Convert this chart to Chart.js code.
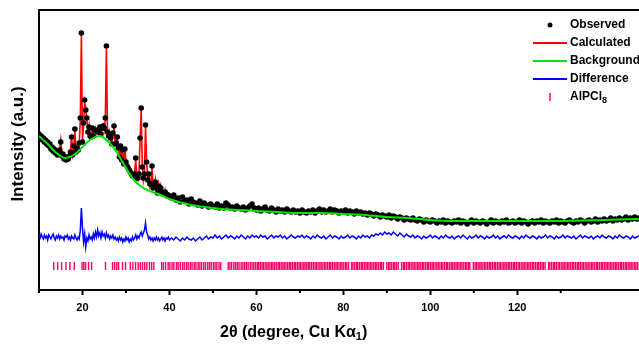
<!DOCTYPE html>
<html>
<head>
<meta charset="utf-8">
<script src="https://cdn.jsdelivr.net/npm/chart.js@4"></script>
<style>
  html, body { margin: 0; padding: 0; background: #fff; overflow: hidden; }
</style>
</head>
<body>
<canvas id="xrdChart" width="639" height="346"></canvas>
<script>
// 2theta axis range
const xMin = 10;
const xMax = 148;

// fine part of the pattern, 10 - 40 deg, 0.25 deg step
const fineStart = 10;
const fineStep = 0.25;

const calcFine = [
  155, 154, 153, 152, 151, 150, 149, 148,
  147, 146, 145, 143, 142, 141, 140, 139,
  138, 137, 136, 142, 150, 137, 134, 133,
  132, 132, 132, 133, 133, 140, 155, 136,
  142, 160, 140, 140, 142, 145, 170, 255,
  150, 165, 188, 182, 170, 160, 165, 152,
  155, 160, 156, 158, 162, 157, 160, 158,
  162, 158, 160, 165, 160, 170, 242, 160,
  152, 158, 150, 148, 155, 162, 148, 145,
  155, 140, 135, 142, 132, 138, 128, 140,
  130, 122, 124, 118, 120, 114, 116, 112,
  118, 130, 114, 110, 118, 150, 180, 125,
  110, 118, 163, 130, 108, 118, 104, 108,
  122, 104, 102, 110, 100, 99, 106, 98,
  104, 96, 98, 95, 100, 94, 96, 93,
  95
];

const obsFine = [
  156, 152, 154, 150, 152, 148, 150, 146,
  148, 144, 146, 141, 143, 139, 141, 137,
  139, 135, 137, 140, 148, 134, 136, 131,
  133, 130, 133, 131, 134, 138, 153, 135,
  144, 161, 138, 142, 140, 147, 172, 257,
  148, 167, 190, 180, 172, 158, 163, 154,
  153, 162, 154, 160, 160, 159, 158, 160,
  163, 156, 162, 164, 162, 172, 244, 158,
  154, 156, 152, 146, 157, 164, 146, 147,
  153, 142, 133, 144, 130, 140, 126, 141,
  128, 124, 122, 120, 118, 116, 114, 114,
  116, 132, 112, 112, 116, 152, 182, 123,
  112, 116, 165, 128, 110, 116, 106, 106,
  124, 102, 104, 108, 102, 97, 104, 100,
  102, 98, 96, 97, 98, 96, 94, 95,
  93
];

const diffFine = [
  55, 52, 56, 53, 51, 55, 52, 54,
  50, 55, 53, 51, 54, 56, 52, 50,
  54, 52, 55, 51, 54, 52, 53, 50,
  54, 53, 55, 51, 53, 50, 54, 52,
  51, 55, 52, 50, 53, 51, 60, 82,
  62, 48, 56, 43, 52, 49, 55, 51,
  53, 50, 56, 52, 58, 53, 60, 54,
  57, 52, 58, 54, 56, 52, 57, 53,
  55, 51, 54, 52, 55, 51, 53, 50,
  52, 49, 53, 50, 52, 48, 51, 49,
  53, 50, 52, 48, 51, 49, 53, 50,
  52, 55, 51, 54, 52, 56, 58, 54,
  57, 60, 67, 58, 55, 51, 53, 50,
  52, 49, 52, 50, 53, 50, 52, 49,
  51, 53, 50, 52, 49, 52, 51, 53,
  50
];

// coarse part, 40.5 - 148 deg, 0.5 deg step
const coarseStart = 40.5;
const coarseStep = 0.5;

const obsCoarse = [
  92, 95, 90, 92, 88, 93, 89, 90, 86, 91, 88, 87, 85, 89, 84, 87, 85, 83, 86, 84,
  83, 86, 82, 84, 82, 87, 85, 82, 83, 81, 84, 82, 81, 83, 80, 82, 84, 86, 82, 80,
  82, 79, 81, 83, 80, 79, 82, 80, 78, 81, 79, 80, 78, 81, 79, 78, 80, 78, 79, 77,
  80, 78, 77, 79, 78, 80, 77, 79, 81, 78, 80, 78, 79, 81, 78, 80, 79, 77, 79, 78,
  80, 77, 79, 78, 76, 79, 77, 78, 76, 77, 75, 77, 76, 74, 76, 75, 73, 75, 74, 73,
  75, 72, 74, 73, 71, 73, 72, 70, 72, 71, 70, 72, 70, 69, 71, 70, 68, 70, 69, 68,
  70, 69, 67, 69, 68, 70, 67, 69, 68, 67, 69, 68, 70, 67, 69, 68, 66, 68, 70, 67,
  69, 68, 67, 69, 68, 66, 68, 70, 67, 69, 68, 67, 69, 68, 70, 67, 68, 69, 67, 68,
  70, 67, 69, 68, 66, 68, 69, 67, 69, 68, 70, 67, 69, 68, 67, 69, 68, 70, 67, 69,
  68, 67, 69, 70, 68, 67, 69, 68, 70, 69, 67, 69, 70, 68, 69, 71, 68, 70, 69, 71,
  69, 70, 72, 69, 71, 70, 72, 70, 71, 73, 70, 72, 71, 73, 71, 72
];

const diffCoarse = [
  52, 50, 53, 51, 49, 52, 50, 53, 51, 50, 52, 49, 51, 53, 50, 52, 54, 51, 53, 52,
  55, 52, 54, 51, 53, 55, 52, 54, 53, 51, 54, 52, 55, 53, 51, 54, 52, 55, 53, 54,
  52, 55, 53, 54, 51, 53, 55, 52, 54, 53, 55, 52, 54, 51, 53, 55, 53, 52, 54, 53,
  55, 52, 54, 53, 51, 54, 52, 55, 53, 52, 54, 51, 53, 55, 52, 54, 53, 51, 54, 52,
  53, 55, 52, 54, 53, 51, 54, 52, 55, 53, 54, 52, 55, 54, 56, 55, 57, 55, 58, 56,
  57, 55, 58, 56, 54, 57, 55, 53, 56, 54, 53, 55, 52, 54, 53, 51, 54, 52, 53, 55,
  52, 54, 53, 51, 54, 52, 55, 53, 52, 54, 51, 53, 54, 52, 55, 53, 51, 54, 52, 53,
  55, 52, 54, 53, 51, 54, 52, 53, 55, 52, 54, 51, 53, 54, 52, 55, 53, 52, 54, 53,
  51, 54, 52, 55, 53, 52, 54, 53, 51, 54, 52, 53, 55, 52, 54, 53, 51, 54, 52, 53,
  55, 52, 54, 53, 52, 54, 51, 53, 55, 52, 54, 53, 52, 54, 51, 53, 54, 52, 55, 53,
  52, 54, 53, 51, 54, 52, 55, 53, 52, 54, 53, 51, 54, 52, 53, 54
];

// calculated curve above 40 deg, 1 deg step
const calcCoarseStart = 41;
const calcCoarseStep = 1;
const calcCoarse = [
  95, 90, 93, 88, 91, 86, 89, 84, 85, 84,
  86, 83, 87, 82, 82, 83, 82, 81, 85, 80,
  80, 82, 79, 80, 79, 79, 80, 78, 78, 78,
  78, 78, 79, 78, 78, 78, 79, 78, 78, 78,
  77, 77, 77, 77, 76, 76, 75, 75, 74, 74,
  73, 73, 72, 72, 71, 71, 70, 70, 70, 69,
  69, 69, 69, 68, 68, 68, 68, 68, 68, 68,
  68, 68, 68, 68, 68, 68, 68, 68, 68, 68,
  68, 68, 68, 68, 68, 68, 68, 68, 68, 68,
  68, 68, 68, 69, 69, 69, 69, 69, 69, 70,
  70, 70, 70, 70, 71, 71, 71, 71
];

// background
const bgAngles = [10, 12, 14, 16, 18, 20, 22, 24, 26, 28, 30, 32, 34, 36, 38, 40, 44, 48, 52, 56, 60, 65, 70, 75, 80, 85, 90, 95, 100, 105, 110, 120, 130, 140, 148];
const bgValues = [154, 146, 137, 132, 135, 143, 151, 154, 148, 137, 122, 109, 102, 98, 95, 91, 86, 83, 81, 80, 79, 78, 77, 77, 76, 75, 73, 72, 70, 69, 69, 69, 69, 70, 71];

// reflection positions of AlPCl8
const braggPeaks = [
  13.4, 14.3, 15.2, 16.2, 17.1, 18.1, 19.9, 20.3, 20.7, 21.4, 22.1,
  25.3, 26.9, 27.4, 27.9, 28.3, 29.2, 29.9, 31.0, 31.6, 32.2, 32.8, 33.3, 33.8, 34.3, 34.8, 35.4, 35.9, 36.4,
  38.2, 38.6, 39.1, 39.7, 40.1, 40.6, 41.0, 41.6, 42.0, 42.5, 43.0, 43.4, 43.9, 44.3, 44.8, 45.2, 45.7, 46.1,
  46.6, 47.0, 47.4, 47.9, 48.3, 48.8, 49.2, 49.6, 50.1, 50.5, 50.9, 51.4, 51.8,
  53.5, 53.9, 54.3, 54.8, 55.2, 55.6, 56.0, 56.5, 56.9, 57.3, 57.7, 58.1, 58.6, 59.0, 59.4, 59.8,
  60.2, 60.5, 60.9, 61.3, 61.6, 62.0, 62.4, 62.7, 63.1, 63.5, 63.8, 64.2, 64.6, 65.0, 65.3, 65.7, 66.1, 66.4,
  66.8, 67.2, 67.6, 67.9, 68.3, 68.7, 69.0, 69.4, 69.8,
  70.1, 70.5, 70.9, 71.2, 71.6, 72.0, 72.3, 72.7, 73.1, 73.5, 73.8, 74.2, 74.6, 74.9, 75.3, 75.7, 76.0, 76.4,
  76.8, 77.1, 77.5, 77.9, 78.3, 78.6, 79.0, 79.4, 79.7,
  80.1, 80.5, 80.8, 81.2, 81.9, 82.2, 82.6, 83.0, 83.3, 83.7, 84.1, 84.4, 84.8, 85.2, 85.5, 85.9, 86.3, 86.6,
  87.0, 87.4, 87.7, 88.1, 88.5, 88.8, 89.2,
  90.0, 90.4, 90.7, 91.1, 91.5, 91.8, 92.2, 92.6, 93.4, 93.8, 94.1, 94.5, 94.9, 95.2, 95.6, 96.0, 96.3, 96.7,
  97.1, 97.4, 97.8, 98.2, 98.5, 98.9, 99.3, 99.6,
  100.0, 100.4, 100.7, 101.1, 101.5, 101.8, 102.2, 102.6, 102.9, 103.3, 103.7, 104.0, 104.4, 104.8, 105.1,
  105.5, 105.9, 106.2, 106.6, 107.0, 107.3, 107.7, 108.1, 108.4, 108.8, 109.1, 109.9,
  110.3, 110.6, 111.0, 111.4, 111.7, 112.1, 112.5, 112.8, 113.2, 113.6, 113.9, 114.3, 114.7, 115.0, 115.4,
  115.8, 116.1, 116.5, 116.9, 117.2, 117.6, 118.0, 118.3, 118.7, 119.1, 119.4, 119.8,
  120.2, 120.5, 120.9, 121.3, 121.6, 122.0, 122.4, 122.7, 123.1, 123.5, 123.8, 124.2, 124.6, 124.9, 125.3,
  125.7, 126.0, 126.4, 127.2, 127.5, 127.9, 128.3, 128.6, 129.0, 129.4, 129.7,
  130.1, 130.5, 130.8, 131.2, 131.6, 131.9, 132.3, 132.7, 133.0, 133.4, 133.8, 134.1, 134.5, 134.9, 135.2,
  135.6, 136.0, 136.3, 136.7, 137.1, 137.4, 137.8, 138.2, 138.5, 138.9, 139.3, 139.6,
  140.0, 140.4, 140.7, 141.1, 141.5, 141.8, 142.2, 142.6, 142.9, 143.3, 143.7, 144.0, 144.4, 144.8, 145.1,
  145.5, 145.9, 146.2, 146.6, 147.0, 147.3, 147.7
];
const braggLevel = 24;

const FONT = "Arial, 'Liberation Sans', sans-serif";

function toPoints(start, step, values) {
  return values.map((v, i) => ({ x: start + i * step, y: v }));
}

const obsPoints = toPoints(fineStart, fineStep, obsFine).concat(toPoints(coarseStart, coarseStep, obsCoarse));
const calcPoints = toPoints(fineStart, fineStep, calcFine).concat(toPoints(calcCoarseStart, calcCoarseStep, calcCoarse));
const diffPoints = toPoints(fineStart, fineStep, diffFine).concat(toPoints(coarseStart, coarseStep, diffCoarse));
const bgPoints = bgAngles.map((a, i) => ({ x: a, y: bgValues[i] }));
const braggPoints = braggPeaks.map(a => ({ x: a, y: braggLevel }));

// frame top line, minor ticks, legend and axis titles
const decorations = {
  id: "decorations",
  afterDraw(chart) {
    const { ctx, chartArea, scales } = chart;
    ctx.save();

    ctx.strokeStyle = "#000";
    ctx.lineWidth = 2;
    ctx.beginPath();
    ctx.moveTo(chartArea.left - 1, chartArea.top);
    ctx.lineTo(chartArea.right, chartArea.top);
    ctx.stroke();

    // minor ticks on x
    scales.x.ticks.forEach(t => {
      if (t.value % 20 !== 0 && t.value % 10 === 0 && t.value <= 130) {
        const px = scales.x.getPixelForValue(t.value);
        ctx.beginPath();
        ctx.moveTo(px, chartArea.bottom);
        ctx.lineTo(px, chartArea.bottom + 3);
        ctx.stroke();
      }
    });

    // legend
    const legX = 550;
    const textX = 570;
    chart.data.datasets.forEach((ds, i) => {
      const y = 25 + i * 18;
      ctx.strokeStyle = ds.borderColor;
      ctx.fillStyle = ds.backgroundColor || ds.borderColor;
      if (ds.legendKind === "dot") {
        ctx.beginPath();
        ctx.arc(legX, y, 2.5, 0, Math.PI * 2);
        ctx.fill();
      } else if (ds.legendKind === "tick") {
        ctx.lineWidth = 1.5;
        ctx.beginPath();
        ctx.moveTo(legX, y - 4);
        ctx.lineTo(legX, y + 4);
        ctx.stroke();
      } else {
        ctx.lineWidth = 2;
        ctx.beginPath();
        ctx.moveTo(533, y);
        ctx.lineTo(567, y);
        ctx.stroke();
      }
      ctx.fillStyle = "#000";
      ctx.textBaseline = "middle";
      ctx.textAlign = "left";
      const m = ds.label.match(/^(.*?)(\d+)$/);
      ctx.font = "bold 12px " + FONT;
      if (m) {
        ctx.fillText(m[1], textX, y);
        const w = ctx.measureText(m[1]).width;
        ctx.font = "bold 9px " + FONT;
        ctx.fillText(m[2], textX + w, y + 4);
      } else {
        ctx.fillText(ds.label, textX, y);
      }
    });

    // x title
    ctx.fillStyle = "#000";
    ctx.textBaseline = "middle";
    ctx.textAlign = "left";
    let tx = 220;
    const ty = 333;
    ctx.font = "bold 16px " + FONT;
    const part1 = "2\u03b8 (degree, Cu K\u03b1";
    ctx.fillText(part1, tx, ty);
    tx += ctx.measureText(part1).width;
    ctx.font = "bold 11px " + FONT;
    ctx.fillText("1", tx, ty + 4);
    tx += ctx.measureText("1").width;
    ctx.font = "bold 16px " + FONT;
    ctx.fillText(")", tx, ty);

    // y title
    ctx.translate(18, 144);
    ctx.rotate(-Math.PI / 2);
    ctx.textAlign = "center";
    ctx.font = "bold 17px " + FONT;
    ctx.fillText("Intensity (a.u.)", 0, 0);

    ctx.restore();
  }
};

const ctx = document.getElementById("xrdChart");

const xrdChart = new Chart(ctx, {
  type: "scatter",
  data: {
    datasets: [
      {
        label: "Observed",
        legendKind: "dot",
        data: obsPoints,
        backgroundColor: "#000",
        borderColor: "#000",
        borderWidth: 0,
        pointRadius: 2.8,
        order: 2
      },
      {
        label: "Calculated",
        data: calcPoints,
        showLine: true,
        borderColor: "#ff0000",
        borderWidth: 1.6,
        pointRadius: 0,
        order: 3
      },
      {
        label: "Background",
        data: bgPoints,
        showLine: true,
        borderColor: "#00e600",
        borderWidth: 2,
        pointRadius: 0,
        cubicInterpolationMode: "monotone",
        order: 1
      },
      {
        label: "Difference",
        data: diffPoints,
        showLine: true,
        borderColor: "#0000ff",
        borderWidth: 1.5,
        pointRadius: 0,
        order: 4
      },
      {
        label: "AlPCl8",
        legendKind: "tick",
        data: braggPoints,
        pointStyle: "line",
        rotation: 90,
        pointRadius: 4,
        borderColor: "#ff0066",
        borderWidth: 1.4,
        order: 5
      }
    ]
  },
  options: {
    responsive: false,
    animation: false,
    layout: { autoPadding: false, padding: { top: 10, left: 0, right: 0, bottom: 0 } },
    scales: {
      x: {
        type: "linear",
        min: xMin,
        max: xMax,
        border: { display: true, color: "#000", width: 2 },
        grid: {
          drawOnChartArea: false,
          drawTicks: true,
          tickLength: 5,
          tickWidth: 2,
          tickColor: c => (c.tick && c.tick.value % 20 === 0 && c.tick.value <= 120) ? "#000" : "rgba(0,0,0,0)"
        },
        ticks: {
          stepSize: 10,
          autoSkip: false,
          maxRotation: 0,
          padding: 6,
          color: "#000",
          font: { family: FONT, size: 11, weight: "bold" },
          callback: v => (v % 20 === 0 && v <= 120) ? v : ""
        },
        afterFit: s => {
          s.height = 56;
          s.paddingLeft = 0;
          s.paddingRight = 0;
        }
      },
      y: {
        min: 0,
        max: 280,
        ticks: { display: false },
        grid: { display: false },
        border: { display: true, color: "#000", width: 2 },
        afterFit: s => { s.width = 39; }
      }
    },
    plugins: {
      legend: { display: false },
      tooltip: { enabled: false }
    }
  },
  plugins: [decorations]
});
</script>
</body>
</html>
